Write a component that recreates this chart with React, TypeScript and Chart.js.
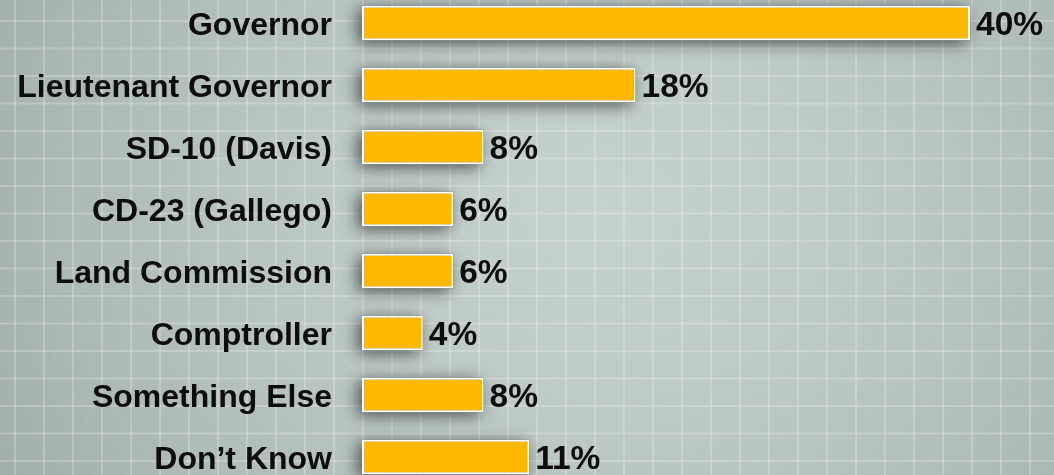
import React, { useEffect, useRef } from "react";
import { Chart, registerables } from "chart.js";

Chart.register(...registerables);

const categories = [
  "Governor",
  "Lieutenant Governor",
  "SD-10 (Davis)",
  "CD-23 (Gallego)",
  "Land Commission",
  "Comptroller",
  "Something Else",
  "Don\u2019t Know",
];
const values = [40, 18, 8, 6, 6, 4, 8, 11];
const valueLabels = ["40%", "18%", "8%", "6%", "6%", "4%", "8%", "11%"];

const FONT_FAMILY = "'Liberation Sans', Arial, sans-serif";
const LABEL_SIZE = 32;
const VALUE_SIZE = 33.5;

const shadowPlugin = {
  id: "barShadow",
  beforeDatasetsDraw(chart: any) {
    const ctx = chart.ctx;
    const meta = chart.getDatasetMeta(0);
    meta.data.forEach((el: any) => {
      const p = el.getProps(["x", "y", "base", "height"], true);
      const left = Math.min(p.base, p.x);
      const w = Math.abs(p.x - p.base);
      ctx.save();
      ctx.shadowColor = "rgba(0,0,0,0.6)";
      ctx.shadowBlur = 16;
      ctx.shadowOffsetX = -4;
      ctx.shadowOffsetY = 3;
      ctx.fillStyle = "#7a8582";
      ctx.fillRect(left, p.y - p.height / 2, w, p.height);
      ctx.restore();
    });
  },
};

const valueLabelPlugin = {
  id: "valueLabels",
  afterDatasetsDraw(chart: any) {
    const ctx = chart.ctx;
    const meta = chart.getDatasetMeta(0);
    ctx.save();
    ctx.font = `bold ${VALUE_SIZE}px ${FONT_FAMILY}`;
    ctx.fillStyle = "#0d0d0d";
    ctx.textAlign = "left";
    ctx.textBaseline = "middle";
    meta.data.forEach((el: any, i: number) => {
      const p = el.getProps(["x", "y"], true);
      ctx.fillText(valueLabels[i], p.x + 6, p.y + 3);
    });
    ctx.restore();
  },
};

export default function App() {
  const canvasRef = useRef<HTMLCanvasElement | null>(null);

  useEffect(() => {
    if (!canvasRef.current) return;
    const chart = new Chart(canvasRef.current, {
      type: "bar",
      data: {
        labels: categories,
        datasets: [
          {
            data: values,
            backgroundColor: "#FFB800",
            borderColor: "#FFFFFF",
            borderWidth: 2,
            borderSkipped: false,
            categoryPercentage: 1,
            barPercentage: 0.56,
          },
        ],
      },
      options: {
        indexAxis: "y",
        animation: false,
        responsive: true,
        maintainAspectRatio: false,
        layout: { padding: { left: 0, right: 8, top: 0, bottom: 0 } },
        plugins: {
          legend: { display: false },
          tooltip: { enabled: false },
        },
        scales: {
          x: {
            display: false,
            min: 0,
            max: 45,
          },
          y: {
            grid: { display: false, drawTicks: false },
            border: { display: false },
            ticks: {
              padding: 30,
              labelOffset: 3,
              color: "#0d0d0d",
              font: { family: FONT_FAMILY, size: LABEL_SIZE, weight: "bold" },
            },
            afterFit(scale: any) {
              scale.width = 362;
              scale.paddingTop = 0;
              scale.paddingBottom = 0;
            },
          },
        },
      },
      plugins: [shadowPlugin, valueLabelPlugin],
    } as any);
    return () => chart.destroy();
  }, []);

  const bg =
    "linear-gradient(90deg, rgba(255,255,255,0.22) 0px, rgba(255,255,255,0.22) 1.5px, rgba(255,255,255,0) 1.5px)," +
    "linear-gradient(180deg, rgba(255,255,255,0.22) 0px, rgba(255,255,255,0.22) 1.5px, rgba(255,255,255,0) 1.5px)," +
    "radial-gradient(ellipse 760px 620px at 600px 210px, #C6D2CE 0%, #BDC9C5 35%, #AFBCB8 65%, #9CA8A5 100%)";

  return (
    <div
      style={{
        position: "fixed",
        left: 0,
        top: 0,
        width: 1054,
        height: 475,
        overflow: "hidden",
        backgroundColor: "#A9B6B2",
        backgroundImage: bg,
        backgroundSize: "29px 100%, 100% 27.5px, 100% 100%",
        backgroundPosition: "14px 0px, 0px 20px, 0px 0px",
      }}
    >
      <div
        style={{
          position: "absolute",
          left: 0,
          top: -8,
          width: 1054,
          height: 496,
        }}
      >
        <canvas ref={canvasRef} />
      </div>
    </div>
  );
}
